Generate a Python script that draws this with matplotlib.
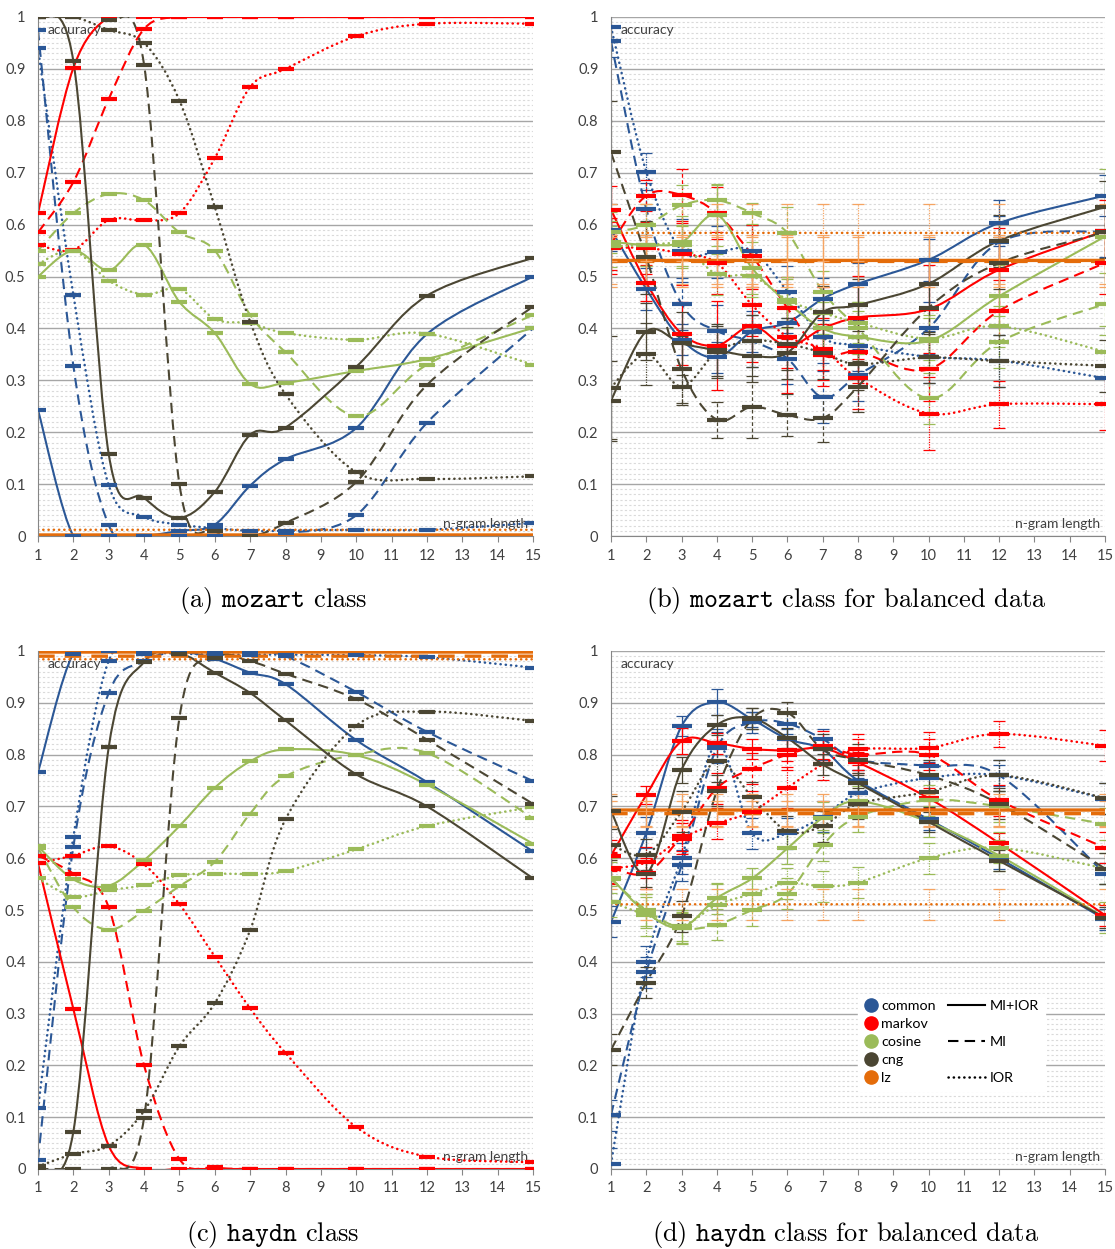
import numpy as np
import matplotlib
matplotlib.use('Agg')
import matplotlib.pyplot as plt
from matplotlib.path import Path
from matplotlib.patches import PathPatch
from matplotlib.lines import Line2D

# === data ===
X = [1, 2, 3, 4, 5, 6, 7, 8, 10, 12, 15]
CLASSIFIERS = ['common', 'markov', 'cosine', 'cng', 'lz']
STYLES = ['MI+IOR', 'MI', 'IOR']
CAPTIONS = [r'(a) $\mathtt{mozart}$ class',
            r'(b) $\mathtt{mozart}$ class for balanced data',
            r'(c) $\mathtt{haydn}$ class',
            r'(d) $\mathtt{haydn}$ class for balanced data']

# (a) mozart class
a_common_mi_ior = [0.243, 0.0, 0.0, 0.0, 0.01, 0.022, 0.097, 0.148, 0.208, 0.389, 0.50]
a_common_mi = [0.975, 0.328, 0.021, 0.0, 0.0, 0.0, 0.0, 0.005, 0.040, 0.218, 0.40]
a_common_ior = [0.94, 0.465, 0.098, 0.037, 0.022, 0.015, 0.01, 0.01, 0.012, 0.012, 0.025]
a_markov_mi_ior = [0.622, 0.902, 1.0, 1.0, 1.0, 1.0, 1.0, 1.0, 1.0, 1.0, 1.0]
a_markov_mi = [0.585, 0.682, 0.842, 0.977, 1.0, 1.0, 1.0, 1.0, 1.0, 1.0, 1.0]
a_markov_ior = [0.561, 0.551, 0.609, 0.608, 0.622, 0.728, 0.865, 0.90, 0.963, 0.987, 0.987]
a_cosine_mi_ior = [0.50, 0.55, 0.512, 0.561, 0.451, 0.391, 0.293, 0.295, 0.318, 0.341, 0.401]
a_cosine_mi = [0.55, 0.622, 0.659, 0.647, 0.585, 0.55, 0.426, 0.354, 0.231, 0.33, 0.426]
a_cosine_ior = [0.524, 0.55, 0.492, 0.465, 0.476, 0.418, 0.41, 0.391, 0.378, 0.39, 0.33]
a_cng_mi_ior = [1.0, 0.915, 0.158, 0.074, 0.035, 0.085, 0.195, 0.209, 0.326, 0.463, 0.536]
a_cng_mi = [1.0, 1.0, 0.995, 0.908, 0.10, 0.01, 0.0, 0.025, 0.104, 0.291, 0.442]
a_cng_ior = [1.0, 1.0, 0.975, 0.95, 0.839, 0.634, 0.413, 0.273, 0.123, 0.11, 0.115]
a_lz_mi_ior = [0.002, 0.002, 0.002, 0.002, 0.002, 0.002, 0.002, 0.002, 0.002, 0.002, 0.002]
a_lz_mi = [0.0, 0.0, 0.0, 0.0, 0.0, 0.0, 0.0, 0.0, 0.0, 0.0, 0.0]
a_lz_ior = [0.012, 0.012, 0.012, 0.012, 0.012, 0.012, 0.012, 0.012, 0.012, 0.012, 0.012]

# (b) mozart class for balanced data
b_common_mi_ior = [0.59, 0.476, 0.378, 0.344, 0.394, 0.411, 0.457, 0.486, 0.532, 0.603, 0.656]
b_common_mi = [0.953, 0.63, 0.447, 0.395, 0.375, 0.342, 0.267, 0.31, 0.40, 0.566, 0.587]
b_common_ior = [0.981, 0.702, 0.55, 0.548, 0.55, 0.471, 0.383, 0.367, 0.345, 0.338, 0.304]
b_markov_mi_ior = [0.629, 0.488, 0.39, 0.367, 0.405, 0.366, 0.40, 0.421, 0.437, 0.513, 0.588]
b_markov_mi = [0.563, 0.656, 0.657, 0.622, 0.54, 0.439, 0.349, 0.355, 0.321, 0.434, 0.526]
b_markov_ior = [0.555, 0.555, 0.544, 0.526, 0.445, 0.384, 0.36, 0.304, 0.236, 0.254, 0.254]
b_cosine_mi_ior = [0.567, 0.561, 0.566, 0.619, 0.516, 0.45, 0.40, 0.384, 0.376, 0.462, 0.577]
b_cosine_mi = [0.585, 0.599, 0.637, 0.647, 0.622, 0.584, 0.471, 0.40, 0.265, 0.374, 0.447]
b_cosine_ior = [0.558, 0.56, 0.56, 0.504, 0.501, 0.455, 0.43, 0.411, 0.38, 0.404, 0.355]
b_cng_mi_ior = [0.261, 0.394, 0.371, 0.358, 0.347, 0.353, 0.431, 0.445, 0.486, 0.569, 0.634]
b_cng_mi = [0.739, 0.537, 0.321, 0.224, 0.249, 0.233, 0.227, 0.288, 0.44, 0.526, 0.585]
b_cng_ior = [0.286, 0.35, 0.288, 0.355, 0.376, 0.37, 0.353, 0.331, 0.344, 0.337, 0.328]
b_lz_mi_ior = [0.531, 0.531, 0.531, 0.531, 0.531, 0.531, 0.531, 0.531, 0.531, 0.531, 0.531]
b_lz_mi = [0.529, 0.529, 0.529, 0.529, 0.529, 0.529, 0.529, 0.529, 0.529, 0.529, 0.529]
b_lz_ior = [0.584, 0.584, 0.584, 0.584, 0.584, 0.584, 0.584, 0.584, 0.584, 0.584, 0.584]

b_common_mi_ior_err = [0.04, 0.04, 0.03, 0.03, 0.04, 0.04, 0.04, 0.04, 0.04, 0.045, 0.04]
b_common_mi_err = [0.03, 0.05, 0.05, 0.05, 0.05, 0.05, 0.05, 0.05, 0.05, 0.05, 0.05]
b_common_ior_err = [0.03, 0.035, 0.06, 0.05, 0.05, 0.05, 0.05, 0.05, 0.05, 0.05, 0.05]
b_markov_mi_ior_err = [0.045, 0.035, 0.06, 0.085, 0.07, 0.09, 0.08, 0.08, 0.085, 0.08, 0.06]
b_markov_mi_err = [0.05, 0.03, 0.05, 0.05, 0.06, 0.06, 0.06, 0.06, 0.06, 0.06, 0.06]
b_markov_ior_err = [0.05, 0.05, 0.06, 0.06, 0.06, 0.06, 0.06, 0.06, 0.07, 0.045, 0.05]
b_cosine_mi_ior_err = [0.04, 0.04, 0.05, 0.06, 0.05, 0.05, 0.05, 0.05, 0.05, 0.06, 0.13]
b_cosine_mi_err = [0.04, 0.04, 0.04, 0.03, 0.02, 0.05, 0.04, 0.05, 0.05, 0.05, 0.06]
b_cosine_ior_err = [0.04, 0.04, 0.04, 0.04, 0.04, 0.04, 0.04, 0.04, 0.04, 0.04, 0.05]
b_cng_mi_ior_err = [0.077, 0.055, 0.06, 0.05, 0.05, 0.05, 0.05, 0.05, 0.05, 0.05, 0.05]
b_cng_mi_err = [0.10, 0.07, 0.065, 0.035, 0.06, 0.04, 0.045, 0.05, 0.05, 0.05, 0.05]
b_cng_ior_err = [0.10, 0.06, 0.035, 0.05, 0.05, 0.05, 0.05, 0.05, 0.05, 0.05, 0.05]
b_lz_mi_ior_err = [0.045, 0.045, 0.045, 0.045, 0.045, 0.045, 0.045, 0.045, 0.045, 0.045, 0.045]
b_lz_mi_err = [0.05, 0.05, 0.05, 0.05, 0.05, 0.05, 0.05, 0.05, 0.05, 0.05, 0.05]
b_lz_ior_err = [0.055, 0.055, 0.055, 0.055, 0.055, 0.055, 0.055, 0.055, 0.055, 0.055, 0.055]

# (c) haydn class
c_common_mi_ior = [0.766, 0.995, 1.0, 1.0, 1.0, 0.985, 0.958, 0.936, 0.828, 0.747, 0.613]
c_common_mi = [0.018, 0.622, 0.919, 0.98, 1.0, 1.0, 1.0, 0.99, 0.921, 0.844, 0.749]
c_common_ior = [0.117, 0.641, 0.981, 0.995, 0.995, 0.993, 0.993, 0.993, 0.992, 0.988, 0.968]
c_markov_mi_ior = [0.59, 0.309, 0.045, 0.0, 0.0, 0.0, 0.0, 0.0, 0.0, 0.0, 0.0]
c_markov_mi = [0.605, 0.57, 0.505, 0.20, 0.019, 0.003, 0.0, 0.0, 0.0, 0.0, 0.0]
c_markov_ior = [0.59, 0.605, 0.623, 0.588, 0.511, 0.41, 0.31, 0.224, 0.081, 0.024, 0.013]
c_cosine_mi_ior = [0.623, 0.559, 0.547, 0.596, 0.662, 0.736, 0.787, 0.81, 0.799, 0.742, 0.628]
c_cosine_mi = [0.62, 0.505, 0.462, 0.499, 0.546, 0.593, 0.686, 0.758, 0.80, 0.803, 0.677]
c_cosine_ior = [0.561, 0.526, 0.538, 0.548, 0.567, 0.57, 0.57, 0.575, 0.617, 0.662, 0.699]
c_cng_mi_ior = [0.005, 0.072, 0.814, 0.979, 0.995, 0.958, 0.919, 0.866, 0.762, 0.70, 0.561]
c_cng_mi = [0.0, 0.0, 0.0, 0.099, 0.871, 0.986, 0.98, 0.956, 0.907, 0.829, 0.705]
c_cng_ior = [0.005, 0.029, 0.045, 0.112, 0.237, 0.32, 0.461, 0.675, 0.856, 0.883, 0.865]
c_lz_mi_ior = [0.998, 0.998, 0.998, 0.998, 0.998, 0.998, 0.998, 0.998, 0.998, 0.998, 0.998]
c_lz_mi = [0.99, 0.99, 0.99, 0.99, 0.99, 0.99, 0.99, 0.99, 0.99, 0.99, 0.99]
c_lz_ior = [0.984, 0.984, 0.984, 0.984, 0.984, 0.984, 0.984, 0.984, 0.984, 0.984, 0.984]

# (d) haydn class for balanced data
d_common_mi_ior = [0.477, 0.649, 0.855, 0.901, 0.868, 0.83, 0.81, 0.75, 0.675, 0.60, 0.482]
d_common_mi = [0.104, 0.38, 0.586, 0.813, 0.862, 0.86, 0.83, 0.79, 0.778, 0.76, 0.57]
d_common_ior = [0.01, 0.40, 0.60, 0.82, 0.648, 0.648, 0.68, 0.725, 0.755, 0.76, 0.715]
d_markov_mi_ior = [0.605, 0.722, 0.826, 0.822, 0.811, 0.808, 0.812, 0.785, 0.716, 0.629, 0.49]
d_markov_mi = [0.582, 0.571, 0.643, 0.735, 0.773, 0.80, 0.816, 0.80, 0.80, 0.712, 0.62]
d_markov_ior = [0.58, 0.592, 0.638, 0.667, 0.69, 0.736, 0.781, 0.81, 0.813, 0.84, 0.817]
d_cosine_mi_ior = [0.562, 0.495, 0.466, 0.523, 0.561, 0.619, 0.678, 0.71, 0.67, 0.605, 0.485]
d_cosine_mi = [0.56, 0.50, 0.465, 0.472, 0.50, 0.531, 0.625, 0.68, 0.712, 0.70, 0.666]
d_cosine_ior = [0.516, 0.49, 0.47, 0.51, 0.531, 0.552, 0.546, 0.553, 0.60, 0.62, 0.58]
d_cng_mi_ior = [0.691, 0.57, 0.771, 0.857, 0.87, 0.832, 0.781, 0.745, 0.67, 0.595, 0.485]
d_cng_mi = [0.23, 0.36, 0.488, 0.73, 0.869, 0.881, 0.81, 0.79, 0.76, 0.705, 0.58]
d_cng_ior = [0.626, 0.607, 0.69, 0.787, 0.718, 0.652, 0.662, 0.705, 0.728, 0.76, 0.716]
d_lz_mi_ior = [0.693, 0.693, 0.693, 0.693, 0.693, 0.693, 0.693, 0.693, 0.693, 0.693, 0.693]
d_lz_mi = [0.686, 0.686, 0.686, 0.686, 0.686, 0.686, 0.686, 0.686, 0.686, 0.686, 0.686]
d_lz_ior = [0.511, 0.511, 0.511, 0.511, 0.511, 0.511, 0.511, 0.511, 0.511, 0.511, 0.511]

d_common_mi_ior_err = [0.03, 0.03, 0.02, 0.025, 0.015, 0.02, 0.02, 0.02, 0.02, 0.02, 0.02]
d_common_mi_err = [0.03, 0.03, 0.03, 0.03, 0.02, 0.02, 0.02, 0.02, 0.02, 0.02, 0.02]
d_common_ior_err = [0.03, 0.03, 0.03, 0.03, 0.03, 0.03, 0.03, 0.03, 0.03, 0.03, 0.03]
d_markov_mi_ior_err = [0.03, 0.018, 0.025, 0.02, 0.02, 0.02, 0.02, 0.02, 0.02, 0.02, 0.02]
d_markov_mi_err = [0.03, 0.03, 0.03, 0.03, 0.03, 0.03, 0.03, 0.03, 0.03, 0.03, 0.03]
d_markov_ior_err = [0.03, 0.03, 0.03, 0.03, 0.04, 0.04, 0.03, 0.03, 0.03, 0.025, 0.03]
d_cosine_mi_ior_err = [0.03, 0.03, 0.03, 0.03, 0.02, 0.03, 0.03, 0.03, 0.03, 0.03, 0.03]
d_cosine_mi_err = [0.04, 0.03, 0.03, 0.03, 0.03, 0.03, 0.03, 0.03, 0.03, 0.03, 0.03]
d_cosine_ior_err = [0.03, 0.04, 0.03, 0.04, 0.03, 0.03, 0.03, 0.03, 0.03, 0.03, 0.03]
d_cng_mi_ior_err = [0.03, 0.025, 0.025, 0.02, 0.02, 0.02, 0.02, 0.02, 0.02, 0.02, 0.02]
d_cng_mi_err = [0.03, 0.03, 0.03, 0.03, 0.02, 0.02, 0.03, 0.03, 0.03, 0.03, 0.03]
d_cng_ior_err = [0.03, 0.03, 0.04, 0.04, 0.03, 0.03, 0.03, 0.03, 0.03, 0.03, 0.03]
d_lz_mi_ior_err = [0.03, 0.03, 0.03, 0.03, 0.03, 0.03, 0.03, 0.03, 0.03, 0.03, 0.03]
d_lz_mi_err = [0.025, 0.025, 0.025, 0.025, 0.025, 0.025, 0.025, 0.025, 0.025, 0.025, 0.025]
d_lz_ior_err = [0.03, 0.03, 0.03, 0.03, 0.03, 0.03, 0.03, 0.03, 0.03, 0.03, 0.03]

# === styles ===
COLORS = {'common': '#2b5796', 'markov': '#ff0000', 'cosine': '#9bbb59',
          'cng': '#4b4633', 'lz': '#e46c0a'}
BAR_COLORS = dict(COLORS, lz='#f5a462')
LINESTYLE = {'MI+IOR': '-', 'MI': (0, (5, 3)), 'IOR': (0, (0.1, 2.0))}
LINEWIDTH = {'MI+IOR': 1.5, 'MI': 1.5, 'IOR': 1.8}
BARSTYLE = {'MI+IOR': '-', 'MI': (0, (3, 2)), 'IOR': (0, (1, 1))}
SUFFIX = {'MI+IOR': 'mi_ior', 'MI': 'mi', 'IOR': 'ior'}
TICKFONT = 'Lato'
YSCALE = 14.7   # px per y-unit / px per x-unit, for Excel-like smoothing

g = globals()


def smooth_path(xs, ys):
    # Excel style smoothed line: cubic bezier through the points
    pts = np.column_stack([np.asarray(xs, float), np.asarray(ys, float) * YSCALE])
    n = len(pts)
    verts = [pts[0]]
    codes = [Path.MOVETO]
    for i in range(n - 1):
        p0 = pts[i - 1] if i > 0 else pts[i]
        p1 = pts[i]
        p2 = pts[i + 1]
        p3 = pts[i + 2] if i + 2 < n else pts[i + 1]
        verts += [p1 + (p2 - p0) / 6.0, p2 - (p3 - p1) / 6.0, p2]
        codes += [Path.CURVE4] * 3
    verts = np.array(verts)
    verts[:, 1] /= YSCALE
    return Path(verts, codes)


def draw_series(ax, ys, err, cl, style, msize):
    lw = LINEWIDTH[style]
    if cl == 'lz' and style != 'IOR':
        lw = 2.4
    patch = PathPatch(smooth_path(X, ys), fill=False, edgecolor=COLORS[cl], lw=lw,
                      linestyle=LINESTYLE[style], zorder=2)
    if style == 'IOR':
        patch.set_capstyle('round')
    ax.add_patch(patch)
    if err is not None:
        eb = ax.errorbar(X, ys, yerr=err, fmt='none', ecolor=BAR_COLORS[cl],
                         elinewidth=0.9, capsize=4, capthick=0.9, zorder=2)
        eb[2][0].set_linestyle(BARSTYLE[style])
    if cl != 'lz':
        ax.plot(X, ys, ls='none', marker='_', ms=msize, mew=3, color=COLORS[cl], zorder=3)


def setup_axes(ax):
    ax.set_xlim(1, 15)
    ax.set_ylim(0, 1)
    ax.set_xticks(range(1, 16))
    ax.set_xticklabels([str(i) for i in range(1, 16)], fontfamily=TICKFONT)
    yt = np.round(np.arange(0, 1.01, 0.1), 1)
    ax.set_yticks(yt)
    ax.set_yticklabels(['0', '0.1', '0.2', '0.3', '0.4', '0.5', '0.6', '0.7', '0.8', '0.9', '1'],
                       fontfamily=TICKFONT)
    ax.set_yticks(np.arange(0, 1.0, 0.01), minor=True)
    ax.set_xticks([], minor=True)
    ax.grid(which='major', axis='y', color='#a6a6a6', lw=1.0)
    ax.grid(which='minor', axis='y', color='#dadada', lw=0.8, ls=(0, (2, 2)))
    ax.grid(which='major', axis='x', visible=False)
    ax.set_axisbelow(True)
    for s in ['top', 'right']:
        ax.spines[s].set_visible(False)
    for s in ['left', 'bottom']:
        ax.spines[s].set_color('#868686')
    ax.tick_params(axis='x', which='major', direction='out', length=4, color='#868686',
                   labelsize=10.5, pad=5, labelcolor='#404040')
    ax.tick_params(axis='y', which='major', length=0, labelsize=10.5, pad=9,
                   labelcolor='#404040')
    ax.tick_params(which='minor', length=0)
    ax.text(0.02, 0.975, 'accuracy', transform=ax.transAxes, va='center', ha='left',
            fontsize=10, fontfamily=TICKFONT, color='#404040', zorder=1)
    ax.text(0.99, 0.024, 'n-gram length', transform=ax.transAxes, va='center', ha='right',
            fontsize=10, fontfamily=TICKFONT, color='#404040', zorder=1)


def add_legend(ax):
    legprops = dict(loc='upper left', frameon=True, fancybox=False, edgecolor='white',
                    facecolor='white', framealpha=1,
                    prop={'family': TICKFONT, 'size': 10.3}, labelspacing=0.42,
                    handletextpad=0.3, borderpad=0.45)
    dots = [Line2D([], [], ls='none', marker='o', ms=9.5, color=COLORS[c])
            for c in CLASSIFIERS]
    leg1 = ax.legend(dots, CLASSIFIERS, bbox_to_anchor=(0.485, 0.352),
                     handlelength=0.9, **legprops)
    leg1.set_zorder(5)
    ax.add_artist(leg1)
    blank = Line2D([], [], ls='none')
    lines = [Line2D([], [], color='black', lw=1.5, ls=LINESTYLE['MI+IOR']), blank,
             Line2D([], [], color='black', lw=1.5, ls=LINESTYLE['MI']), blank,
             Line2D([], [], color='black', lw=1.8, ls=LINESTYLE['IOR'],
                    dash_capstyle='round')]
    leg2 = ax.legend(lines, ['MI+IOR', '', 'MI', '', 'IOR'],
                     bbox_to_anchor=(0.655, 0.352), handlelength=2.6, **legprops)
    leg2.set_zorder(5)


plt.rcParams['mathtext.fontset'] = 'cm'
fig = plt.figure(figsize=(11.15, 12.49), dpi=100)
W, H = 1115.0, 1249.0
boxes = {'a': (38, 17, 533, 536), 'b': (611, 17, 1105, 536),
         'c': (38, 651, 533, 1169), 'd': (611, 651, 1105, 1169)}
cap_pos = {'a': (273, 600), 'b': (846, 600), 'c': (273, 1234), 'd': (846, 1234)}

for k, panel in enumerate('abcd'):
    x0, y0, x1, y1 = boxes[panel]
    ax = fig.add_axes([x0 / W, 1 - y1 / H, (x1 - x0) / W, (y1 - y0) / H])
    setup_axes(ax)
    msize = 14 if panel in 'bd' else 12
    for cl in CLASSIFIERS:
        for st in STYLES:
            name = '%s_%s_%s' % (panel, cl, SUFFIX[st])
            ys = g[name]
            err = g.get(name + '_err')
            draw_series(ax, ys, err, cl, st, msize)
    cx, cy = cap_pos[panel]
    fig.text(cx / W, 1 - cy / H, CAPTIONS[k], ha='center', va='center',
             fontsize=19, family='cmr10')
    if panel == 'd':
        add_legend(ax)

fig.savefig('out.png', dpi=100)
